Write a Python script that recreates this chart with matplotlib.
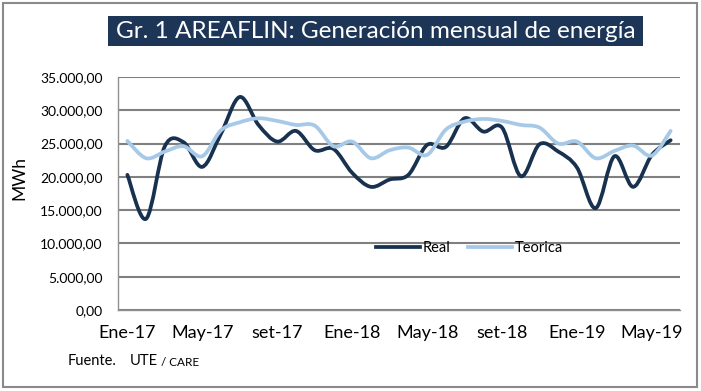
import matplotlib.pyplot as plt
import numpy as np
from matplotlib.path import Path
from matplotlib.patches import PathPatch, Rectangle
from matplotlib.lines import Line2D

plt.rcParams['font.family'] = ['Lato', 'DejaVu Sans']

# Data (MWh, monthly Ene-17 .. Jun-19)
real = [20300, 13700, 24600, 25200, 21500, 26500, 32000, 27800, 25300, 26900,
        24000, 24200, 20600, 18500, 19600, 20300, 24800, 24500, 28800, 26800,
        27400, 20100, 24900, 23800, 21400, 15300, 23100, 18500, 23300, 25500]
teorica = [25400, 22800, 23800, 24600, 23100, 27000, 28200, 28800, 28400, 27800,
           27700, 24600, 25300, 22800, 24000, 24400, 23300, 27100, 28300, 28700,
           28400, 27800, 27400, 25000, 25300, 22800, 23900, 24700, 23200, 26900]
tick_labels = ["Ene-17", "May-17", "set-17", "Ene-18", "May-18", "set-18", "Ene-19", "May-19"]
y_ticks = [0, 5000, 10000, 15000, 20000, 25000, 30000, 35000]

W, H = 701, 391
fig = plt.figure(figsize=(W / 100, H / 100), dpi=100)


def px(x0, y0, x1, y1):
    # pixel box -> figure fraction rect
    return [x0 / W, 1 - y1 / H, (x1 - x0) / W, (y1 - y0) / H]


ax = fig.add_axes(px(118, 77, 680, 310))


def smooth_path(y):
    # Excel-style smoothed line: cubic Bezier through every point
    x = np.arange(len(y), dtype=float)
    y = np.asarray(y, dtype=float)
    verts = [(x[0], y[0])]
    codes = [Path.MOVETO]
    n = len(y)
    for i in range(n - 1):
        i0 = max(i - 1, 0)
        i3 = min(i + 2, n - 1)
        c1 = (x[i] + (x[i + 1] - x[i0]) / 6, y[i] + (y[i + 1] - y[i0]) / 6)
        c2 = (x[i + 1] - (x[i3] - x[i]) / 6, y[i + 1] - (y[i3] - y[i]) / 6)
        verts += [c1, c2, (x[i + 1], y[i + 1])]
        codes += [Path.CURVE4] * 3
    return Path(verts, codes)


real_color = "#17314f"
teo_color = "#a7c9e8"
ax.add_patch(PathPatch(smooth_path(real), facecolor="none", edgecolor=real_color,
                       lw=2.7, capstyle="round", joinstyle="round", zorder=3))
ax.add_patch(PathPatch(smooth_path(teorica), facecolor="none", edgecolor=teo_color,
                       lw=2.7, capstyle="round", joinstyle="round", zorder=4))

ax.set_xlim(-0.5, len(real) - 0.5)
ax.set_ylim(0, 35000)
ax.set_yticks(y_ticks)
ax.set_yticklabels([f"{v:,.2f}".replace(",", "X").replace(".", ",").replace("X", ".") for v in y_ticks],
                   fontsize=10)
ax.set_xticks(range(0, len(real), 4))
ax.set_xticklabels(tick_labels, fontsize=13)
ax.tick_params(length=0)
ax.tick_params(axis="y", pad=11)
ax.tick_params(axis="x", pad=11)
ax.grid(axis="y", color="#808080", lw=1.5)
ax.set_axisbelow(True)
for s in ["top", "right"]:
    ax.spines[s].set_visible(False)
for s in ["left", "bottom"]:
    ax.spines[s].set_color("#909090")
    ax.spines[s].set_linewidth(1.0)
ax.set_ylabel("MWh", fontsize=12.5)
ax.yaxis.set_label_coords(-0.162, 0.567)

handles = [Line2D([], [], color=real_color, lw=2.7), Line2D([], [], color=teo_color, lw=2.7)]
ax.legend(handles, ["Real", "Teorica"], loc="center", bbox_to_anchor=(0.625, 0.265), ncol=2,
          frameon=False, fontsize=10.5, handlelength=3.0, handletextpad=0.2, columnspacing=1.2)

# title box
fig.patches.append(Rectangle(px(108, 16, 643, 46)[:2], 535 / W, 30 / H, transform=fig.transFigure,
                             facecolor="#1d3557", edgecolor="none", zorder=0))
fig.text(375.5 / W, 1 - 31.5 / H, "Gr. 1 AREAFLIN: Generación mensual de energía", color="white",
         fontsize=17.5, ha="center", va="center")

# outer frame
fig.patches.append(Rectangle((3 / W, 1 - 387 / H), 694 / W, 384 / H, transform=fig.transFigure,
                             facecolor="none", edgecolor="#8a8a8a", lw=1.5))

fig.text(68 / W, 1 - 361 / H, "Fuente.", fontsize=10.5, va="center")
fig.text(130 / W, 1 - 361 / H, "UTE", fontsize=10.5, va="center")
fig.text(161 / W, 1 - 362 / H, "/ CARE", fontsize=8.5, va="center")

fig.savefig("out.png", dpi=100)
